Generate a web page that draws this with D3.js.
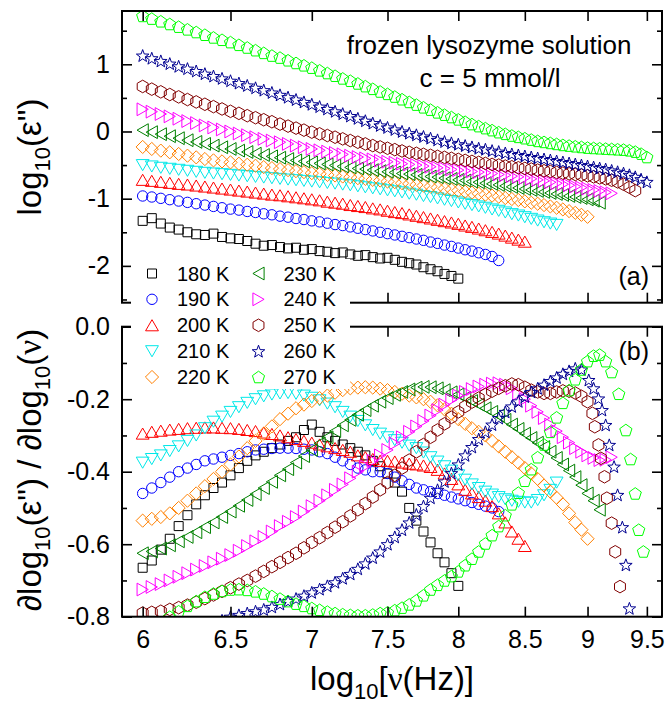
<!DOCTYPE html>
<html>
<head>
<meta charset="utf-8">
<script src="https://cdn.jsdelivr.net/npm/d3@7"></script>
<style>
  body { margin: 0; background: #fff; }
  text { font-family: "Liberation Sans", Arial, sans-serif; fill: #000; }
</style>
</head>
<body>
<svg id="chart" width="669" height="705"></svg>
<script>
// log10 of frequency (Hz), common measurement grid
var freq = [
  6.00,6.05,6.10,6.15,6.20,6.25,6.30,6.35,6.40,6.45,
  6.50,6.55,6.60,6.65,6.70,6.75,6.80,6.85,6.90,6.95,
  7.00,7.05,7.10,7.15,7.20,7.25,7.30,7.35,7.40,7.45,
  7.50,7.55,7.60,7.65,7.70,7.75,7.80,7.85,7.90,7.95,
  8.00,8.05,8.10,8.15,8.20,8.25,8.30,8.35,8.40,8.45,
  8.50,8.55,8.60,8.65,8.70,8.75,8.80,8.85,8.90,8.95,
  9.00,9.05,9.10,9.15,9.20,9.25,9.30,9.35,9.40,9.45,
  9.50]

var temps = ["180 K","190 K","200 K","210 K","220 K","230 K","240 K","250 K","260 K","270 K"]
var colors = ["#000000","#0000ff","#ff0000","#00e8e8","#ff8000","#008000","#ff00ff","#800000","#000090","#00ff00"]
var shapes = ["square","circle","triUp","triDown","diamond","triLeft","triRight","hexagon","star","pentagon"]

// panel (a): log10(eps'')
var eps180 = [
  -1.33,-1.29,-1.37,-1.43,-1.46,-1.50,-1.53,-1.54,-1.52,-1.57,
  -1.59,-1.60,-1.63,-1.67,-1.70,-1.69,-1.72,-1.74,-1.73,-1.76,
  -1.75,-1.78,-1.79,-1.81,-1.80,-1.83,-1.85,-1.84,-1.87,-1.89,
  -1.88,-1.91,-1.94,-1.96,-1.98,-2.02,-2.05,-2.08,-2.12,-2.15,
  -2.19]
var eps190 = [
  -0.96,-0.975,-0.995,-1.015,-1.035,-1.055,-1.075,-1.095,-1.115,-1.135,
  -1.155,-1.17,-1.19,-1.205,-1.225,-1.24,-1.26,-1.275,-1.295,-1.31,
  -1.33,-1.345,-1.365,-1.385,-1.40,-1.42,-1.44,-1.46,-1.48,-1.50,
  -1.52,-1.54,-1.56,-1.58,-1.60,-1.62,-1.645,-1.665,-1.69,-1.71,
  -1.735,-1.76,-1.78,-1.805,-1.83,-1.86,-1.92]
var eps200 = [
  -0.72,-0.735,-0.75,-0.765,-0.78,-0.79,-0.805,-0.82,-0.835,-0.85,
  -0.865,-0.88,-0.895,-0.91,-0.925,-0.94,-0.95,-0.965,-0.98,-0.995,
  -1.01,-1.025,-1.045,-1.06,-1.075,-1.095,-1.11,-1.125,-1.145,-1.16,
  -1.18,-1.20,-1.215,-1.235,-1.255,-1.275,-1.295,-1.315,-1.335,-1.355,
  -1.375,-1.40,-1.42,-1.445,-1.47,-1.495,-1.52,-1.55,-1.58,-1.61,
  -1.64]
var eps210 = [
  -0.50,-0.52,-0.54,-0.555,-0.57,-0.585,-0.60,-0.615,-0.625,-0.635,
  -0.645,-0.655,-0.665,-0.675,-0.685,-0.695,-0.705,-0.715,-0.725,-0.735,
  -0.745,-0.755,-0.765,-0.775,-0.79,-0.80,-0.815,-0.83,-0.845,-0.86,
  -0.875,-0.89,-0.905,-0.925,-0.94,-0.96,-0.975,-0.995,-1.015,-1.035,
  -1.055,-1.075,-1.095,-1.115,-1.135,-1.16,-1.18,-1.205,-1.23,-1.25,
  -1.275,-1.30,-1.325,-1.35,-1.37,-1.39]
var eps220 = [
  -0.23,-0.26,-0.285,-0.31,-0.335,-0.36,-0.385,-0.41,-0.43,-0.445,
  -0.46,-0.48,-0.495,-0.51,-0.53,-0.545,-0.56,-0.575,-0.59,-0.605,
  -0.62,-0.63,-0.645,-0.655,-0.67,-0.68,-0.695,-0.705,-0.72,-0.73,
  -0.745,-0.755,-0.77,-0.78,-0.795,-0.805,-0.82,-0.835,-0.85,-0.865,
  -0.88,-0.895,-0.91,-0.925,-0.94,-0.955,-0.97,-0.99,-1.005,-1.02,
  -1.04,-1.06,-1.075,-1.095,-1.115,-1.135,-1.16,-1.185,-1.21,-1.24,
  -1.27]
var eps230 = [
  0.02,-0.01,-0.04,-0.07,-0.10,-0.13,-0.155,-0.185,-0.21,-0.235,
  -0.26,-0.285,-0.305,-0.33,-0.35,-0.37,-0.39,-0.41,-0.43,-0.445,
  -0.46,-0.475,-0.49,-0.505,-0.52,-0.535,-0.55,-0.56,-0.575,-0.59,
  -0.60,-0.61,-0.625,-0.635,-0.645,-0.66,-0.67,-0.68,-0.695,-0.705,
  -0.72,-0.73,-0.745,-0.755,-0.77,-0.78,-0.795,-0.81,-0.825,-0.84,
  -0.855,-0.87,-0.885,-0.90,-0.915,-0.93,-0.945,-0.96,-0.975,-0.99,
  -1.01,-1.03,-1.06]
var eps240 = [
  0.33,0.295,0.26,0.225,0.19,0.155,0.125,0.09,0.06,0.03,
  0.0,-0.03,-0.055,-0.085,-0.11,-0.135,-0.16,-0.185,-0.21,-0.235,
  -0.26,-0.28,-0.30,-0.32,-0.34,-0.36,-0.38,-0.40,-0.415,-0.435,
  -0.45,-0.465,-0.48,-0.49,-0.50,-0.515,-0.525,-0.54,-0.55,-0.565,
  -0.575,-0.585,-0.595,-0.605,-0.615,-0.625,-0.64,-0.65,-0.665,-0.675,
  -0.69,-0.705,-0.72,-0.735,-0.755,-0.77,-0.785,-0.80,-0.82,-0.835,
  -0.85,-0.87,-0.885,-0.905,-0.92]
var eps250 = [
  0.67,0.63,0.59,0.55,0.515,0.475,0.44,0.405,0.37,0.335,
  0.30,0.27,0.235,0.205,0.175,0.145,0.11,0.08,0.05,0.02,
  -0.01,-0.035,-0.06,-0.085,-0.11,-0.135,-0.16,-0.185,-0.21,-0.23,
  -0.25,-0.27,-0.29,-0.31,-0.325,-0.34,-0.355,-0.37,-0.385,-0.40,
  -0.415,-0.43,-0.445,-0.46,-0.475,-0.49,-0.50,-0.515,-0.525,-0.54,
  -0.55,-0.56,-0.575,-0.585,-0.595,-0.61,-0.62,-0.63,-0.64,-0.65,
  -0.66,-0.675,-0.69,-0.705,-0.725,-0.75,-0.785,-0.83,-0.88]
var eps260 = [
  1.13,1.09,1.05,1.01,0.97,0.935,0.90,0.86,0.825,0.79,
  0.755,0.72,0.685,0.65,0.615,0.58,0.545,0.51,0.475,0.44,
  0.405,0.37,0.335,0.30,0.265,0.23,0.195,0.16,0.125,0.09,
  0.06,0.03,0.0,-0.025,-0.05,-0.075,-0.10,-0.125,-0.15,-0.17,
  -0.19,-0.21,-0.23,-0.25,-0.265,-0.285,-0.30,-0.32,-0.335,-0.35,
  -0.365,-0.38,-0.395,-0.41,-0.425,-0.44,-0.455,-0.47,-0.485,-0.50,
  -0.515,-0.53,-0.545,-0.56,-0.58,-0.60,-0.62,-0.645,-0.675,-0.71,
  -0.75]
var eps270 = [
  1.72,1.68,1.64,1.60,1.56,1.52,1.48,1.44,1.40,1.365,
  1.33,1.29,1.25,1.21,1.17,1.13,1.10,1.06,1.02,0.985,
  0.95,0.91,0.87,0.83,0.79,0.755,0.715,0.675,0.635,0.595,
  0.56,0.52,0.48,0.44,0.40,0.36,0.325,0.285,0.25,0.215,
  0.18,0.145,0.11,0.08,0.05,0.02,-0.01,-0.035,-0.06,-0.08,
  -0.10,-0.12,-0.14,-0.155,-0.17,-0.185,-0.20,-0.21,-0.22,-0.23,
  -0.24,-0.245,-0.25,-0.255,-0.26,-0.265,-0.27,-0.28,-0.30,-0.33,
  -0.38]

// panel (b): dlog10(eps'') / dlog10(nu)
var der180 = [
  -0.665,-0.645,-0.615,-0.585,-0.55,-0.52,-0.49,-0.465,-0.445,-0.43,
  -0.41,-0.39,-0.37,-0.355,-0.345,-0.335,-0.325,-0.315,-0.305,-0.285,
  -0.27,-0.29,-0.305,-0.315,-0.325,-0.335,-0.345,-0.355,-0.37,-0.385,
  -0.405,-0.43,-0.455,-0.50,-0.535,-0.565,-0.595,-0.625,-0.65,-0.68,
  -0.715]
var der190 = [
  -0.46,-0.445,-0.43,-0.415,-0.40,-0.39,-0.38,-0.37,-0.365,-0.36,
  -0.355,-0.35,-0.345,-0.34,-0.338,-0.336,-0.335,-0.335,-0.336,-0.338,
  -0.34,-0.345,-0.35,-0.36,-0.37,-0.38,-0.39,-0.395,-0.40,-0.40,
  -0.405,-0.415,-0.425,-0.435,-0.445,-0.45,-0.455,-0.46,-0.465,-0.47,
  -0.475,-0.48,-0.485,-0.49,-0.495,-0.50,-0.51]
var der200 = [
  -0.295,-0.29,-0.287,-0.284,-0.282,-0.28,-0.279,-0.278,-0.278,-0.279,
  -0.28,-0.282,-0.285,-0.288,-0.292,-0.296,-0.30,-0.305,-0.31,-0.315,
  -0.32,-0.325,-0.33,-0.335,-0.34,-0.345,-0.355,-0.36,-0.365,-0.37,
  -0.37,-0.372,-0.375,-0.378,-0.38,-0.383,-0.387,-0.395,-0.405,-0.42,
  -0.435,-0.45,-0.46,-0.47,-0.48,-0.495,-0.515,-0.54,-0.565,-0.585,
  -0.605]
var der210 = [
  -0.375,-0.365,-0.355,-0.343,-0.33,-0.315,-0.30,-0.28,-0.262,-0.248,
  -0.235,-0.222,-0.21,-0.20,-0.192,-0.187,-0.184,-0.183,-0.185,-0.19,
  -0.196,-0.203,-0.212,-0.222,-0.235,-0.248,-0.26,-0.272,-0.285,-0.295,
  -0.305,-0.313,-0.32,-0.328,-0.335,-0.347,-0.36,-0.372,-0.385,-0.397,
  -0.41,-0.422,-0.435,-0.445,-0.455,-0.463,-0.47,-0.476,-0.48,-0.483,
  -0.485,-0.485,-0.478,-0.465,-0.45,-0.43]
var der220 = [
  -0.535,-0.53,-0.525,-0.515,-0.50,-0.48,-0.46,-0.44,-0.42,-0.40,
  -0.38,-0.358,-0.335,-0.315,-0.295,-0.275,-0.255,-0.24,-0.225,-0.215,
  -0.205,-0.197,-0.19,-0.182,-0.175,-0.17,-0.168,-0.167,-0.168,-0.171,
  -0.175,-0.18,-0.185,-0.19,-0.195,-0.20,-0.207,-0.217,-0.228,-0.24,
  -0.255,-0.268,-0.28,-0.29,-0.30,-0.315,-0.33,-0.345,-0.36,-0.375,
  -0.39,-0.405,-0.42,-0.438,-0.455,-0.472,-0.49,-0.515,-0.54,-0.56,
  -0.585]
var der230 = [
  -0.625,-0.62,-0.612,-0.603,-0.592,-0.58,-0.567,-0.553,-0.54,-0.525,
  -0.51,-0.494,-0.478,-0.462,-0.445,-0.428,-0.41,-0.393,-0.375,-0.357,
  -0.34,-0.322,-0.305,-0.288,-0.272,-0.257,-0.243,-0.23,-0.218,-0.207,
  -0.197,-0.188,-0.18,-0.173,-0.168,-0.166,-0.167,-0.17,-0.175,-0.181,
  -0.187,-0.196,-0.205,-0.215,-0.225,-0.235,-0.245,-0.257,-0.27,-0.282,
  -0.295,-0.307,-0.32,-0.332,-0.345,-0.362,-0.38,-0.397,-0.415,-0.437,
  -0.46,-0.48,-0.505]
var der240 = [
  -0.725,-0.718,-0.71,-0.70,-0.69,-0.68,-0.67,-0.66,-0.65,-0.64,
  -0.63,-0.618,-0.605,-0.592,-0.58,-0.565,-0.55,-0.538,-0.525,-0.51,
  -0.495,-0.48,-0.465,-0.45,-0.435,-0.418,-0.40,-0.385,-0.37,-0.355,
  -0.34,-0.322,-0.305,-0.29,-0.275,-0.26,-0.245,-0.23,-0.215,-0.202,
  -0.19,-0.18,-0.172,-0.165,-0.16,-0.157,-0.156,-0.16,-0.17,-0.185,
  -0.20,-0.218,-0.235,-0.252,-0.27,-0.288,-0.305,-0.32,-0.335,-0.345,
  -0.355,-0.362,-0.368,-0.367,-0.36]
var der250 = [
  -0.79,-0.788,-0.785,-0.78,-0.775,-0.768,-0.76,-0.75,-0.74,-0.73,
  -0.72,-0.71,-0.70,-0.688,-0.675,-0.662,-0.65,-0.637,-0.625,-0.61,
  -0.595,-0.582,-0.568,-0.553,-0.538,-0.522,-0.505,-0.488,-0.47,-0.45,
  -0.43,-0.41,-0.39,-0.368,-0.345,-0.325,-0.305,-0.285,-0.268,-0.25,
  -0.235,-0.22,-0.208,-0.197,-0.187,-0.178,-0.17,-0.163,-0.158,-0.16,
  -0.167,-0.175,-0.18,-0.184,-0.184,-0.18,-0.177,-0.178,-0.183,-0.192]
// 260 K starts at freq 6.45, 270 K at 6.15 (lower values fall below the axis)
var der260 = [
  -0.81,
  -0.80,-0.795,-0.79,-0.785,-0.78,-0.773,-0.765,-0.757,-0.75,-0.742,
  -0.733,-0.724,-0.715,-0.705,-0.694,-0.682,-0.668,-0.653,-0.637,-0.62,
  -0.60,-0.58,-0.56,-0.54,-0.518,-0.495,-0.472,-0.45,-0.427,-0.404,
  -0.38,-0.355,-0.332,-0.31,-0.29,-0.27,-0.252,-0.235,-0.22,-0.206,
  -0.193,-0.18,-0.17,-0.16,-0.15,-0.14,-0.13,-0.122,-0.115]
var der270 = [
  -0.80,-0.785,-0.77,-0.757,-0.745,-0.736,-0.729,
  -0.725,-0.724,-0.726,-0.73,-0.736,-0.743,-0.75,-0.757,-0.764,-0.77,
  -0.776,-0.781,-0.786,-0.79,-0.793,-0.795,-0.796,-0.796,-0.794,-0.79,
  -0.788,-0.782,-0.775,-0.766,-0.755,-0.741,-0.725,-0.712,-0.70,-0.688,
  -0.675,-0.658,-0.64,-0.62,-0.598,-0.575,-0.55,-0.52,-0.49,-0.458,
  -0.425,-0.393,-0.36,-0.325,-0.29,-0.25,-0.21,-0.175,-0.145,-0.118,
  -0.095,-0.08,-0.077]
var derStart = [0,0,0,0,0,0,0,0,9,3]

// steep high-frequency ends of panel (b), own frequencies
var tailX250 = [9.00,9.04,9.06,9.09,9.11,9.14,9.16,9.20,9.23,9.27]
var tailY250 = [-0.207,-0.239,-0.276,-0.326,-0.363,-0.414,-0.473,-0.542,-0.621,-0.717]
var tailX260 = [8.95,9.01,9.05,9.09,9.12,9.15,9.18,9.22,9.25,9.29,9.32,9.35]
var tailY260 = [-0.118,-0.147,-0.17,-0.198,-0.23,-0.271,-0.326,-0.386,-0.464,-0.553,-0.657,-0.777]
var tailX270 = [9.15,9.20,9.26,9.32,9.36,9.40,9.43,9.47]
var tailY270 = [-0.095,-0.125,-0.185,-0.285,-0.365,-0.46,-0.56,-0.62]

var xTicks = [6, 6.5, 7, 7.5, 8, 8.5, 9, 9.5]
var yTicksA = [-2, -1, 0, 1]
var yMinorA = [-2.5, -1.5, -0.5, 0.5, 1.5]
var yTicksB = [-0.8, -0.6, -0.4, -0.2, 0]
var yMinorB = [-0.7, -0.5, -0.3, -0.1]

var epsSeries = [eps180, eps190, eps200, eps210, eps220, eps230, eps240, eps250, eps260, eps270]
var derSeries = [der180, der190, der200, der210, der220, der230, der240, der250, der260, der270]
var derTails = [null, null, null, null, null, null, null,
  [tailX250, tailY250], [tailX260, tailY260], [tailX270, tailY270]]

var svg = d3.select("#chart")

var left = 122, right = 662
var panelA = {top: 11, bottom: 302.7}
var panelB = {top: 326.7, bottom: 616.7}

var x = d3.scaleLog().domain([5.888, 9.632]).range([left, right])
var yA = d3.scaleLinear().domain([-2.548, 1.793]).range([panelA.bottom, panelA.top])
var yB = d3.scaleLinear().domain([-0.8, 0]).range([panelB.bottom, panelB.top])

// marker outlines centred on 0,0
function polygon(n, r, rot, dy) {
  var pts = d3.range(n).map(function(i) {
    var a = rot + i * 2 * Math.PI / n
    return [r * Math.cos(a), r * Math.sin(a) + (dy || 0)]
  })
  return "M" + pts.map(function(p) { return p[0].toFixed(2) + "," + p[1].toFixed(2) }).join("L") + "Z"
}
function starPath(ro, ri) {
  var pts = d3.range(10).map(function(i) {
    var a = -Math.PI / 2 + i * Math.PI / 5, r = i % 2 ? ri : ro
    return [r * Math.cos(a), r * Math.sin(a) + 0.6]
  })
  return "M" + pts.map(function(p) { return p[0].toFixed(2) + "," + p[1].toFixed(2) }).join("L") + "Z"
}
var shapePaths = {
  square: "M-4.5,-4.5h9v9h-9Z",
  circle: "M5.2,0A5.2,5.2 0 1,1 -5.2,0A5.2,5.2 0 1,1 5.2,0Z",
  triUp: polygon(3, 7.4, -Math.PI / 2, 1.8),
  triDown: polygon(3, 7.4, Math.PI / 2, -1.8),
  diamond: polygon(4, 6.6, -Math.PI / 2),
  triLeft: "M-5.6,0L5.6,-6.4L5.6,6.4Z",
  triRight: "M5.6,0L-5.6,-6.4L-5.6,6.4Z",
  hexagon: polygon(6, 6.3, -Math.PI / 2),
  star: starPath(6.6, 2.7),
  pentagon: polygon(5, 6.4, -Math.PI / 2, 0.6)
}

// clip regions
var defs = svg.append("defs")
defs.append("clipPath").attr("id", "clipA").append("rect")
  .attr("x", left).attr("y", panelA.top).attr("width", right - left).attr("height", panelA.bottom - panelA.top)
defs.append("clipPath").attr("id", "clipB").append("rect")
  .attr("x", left).attr("y", panelB.top).attr("width", right - left).attr("height", panelB.bottom - panelB.top)

function drawPoints(g, pts, k) {
  g.selectAll(null).data(pts).enter().append("path")
    .attr("d", shapePaths[shapes[k]])
    .attr("transform", function(d) { return "translate(" + d[0].toFixed(2) + "," + d[1].toFixed(2) + ")" })
    .attr("fill", "none")
    .attr("stroke", colors[k])
    .attr("stroke-width", 1)
}

var gA = svg.append("g").attr("clip-path", "url(#clipA)")
epsSeries.forEach(function(vals, k) {
  var pts = vals.map(function(v, i) { return [x(freq[i]), yA(v)] })
  drawPoints(gA.append("g"), pts, k)
})

var gB = svg.append("g").attr("clip-path", "url(#clipB)")
derSeries.forEach(function(vals, k) {
  var s = derStart[k]
  var pts = vals.map(function(v, i) { return [x(freq[s + i]), yB(v)] })
  if (derTails[k]) {
    derTails[k][0].forEach(function(xv, i) { pts.push([x(xv), yB(derTails[k][1][i])]) })
  }
  drawPoints(gB.append("g"), pts, k)
})

// axes with inward ticks on all four sides
function styleAxis(g) {
  g.select(".domain").remove()
  g.selectAll(".tick line").attr("stroke", "#000").attr("stroke-width", 1.6)
  g.selectAll(".tick text").style("font-size", "25px").attr("font-family", null)
  g.attr("font-family", null).attr("font-size", null)
}
function drawPanel(y, p, major, minor, fmt, showX) {
  var fx = showX ? function(d) { return String(d) } : ""
  svg.append("g").attr("transform", "translate(0," + p.bottom + ")")
    .call(d3.axisBottom(x).tickValues(xTicks).tickSize(-10).tickSizeOuter(0).tickPadding(14).tickFormat(fx))
    .call(styleAxis)
  svg.append("g").attr("transform", "translate(0," + p.top + ")")
    .call(d3.axisTop(x).tickValues(xTicks).tickSize(-10).tickSizeOuter(0).tickFormat(""))
    .call(styleAxis)
  svg.append("g").attr("transform", "translate(" + left + ",0)")
    .call(d3.axisLeft(y).tickValues(major).tickSize(-10).tickSizeOuter(0).tickPadding(12).tickFormat(fmt))
    .call(styleAxis)
  svg.append("g").attr("transform", "translate(" + left + ",0)")
    .call(d3.axisLeft(y).tickValues(minor).tickSize(-5).tickSizeOuter(0).tickFormat(""))
    .call(styleAxis)
  svg.append("g").attr("transform", "translate(" + right + ",0)")
    .call(d3.axisRight(y).tickValues(major).tickSize(-10).tickSizeOuter(0).tickFormat(""))
    .call(styleAxis)
  svg.append("g").attr("transform", "translate(" + right + ",0)")
    .call(d3.axisRight(y).tickValues(minor).tickSize(-5).tickSizeOuter(0).tickFormat(""))
    .call(styleAxis)
  svg.append("rect")
    .attr("x", left).attr("y", p.top).attr("width", right - left).attr("height", p.bottom - p.top)
    .attr("fill", "none").attr("stroke", "#000").attr("stroke-width", 2)
}
drawPanel(yA, panelA, yTicksA, yMinorA, function(d) { return String(d) }, false)
drawPanel(yB, panelB, yTicksB, yMinorB, function(d) { return d.toFixed(1) }, true)

// legend, white box spans the gap between the panels
svg.append("rect").attr("x", 131).attr("y", 259).attr("width", 219).attr("height", 130).attr("fill", "#fff")
var legendCols = [152, 258.5]
var legendRows = [273.5, 299.3, 325.3, 351.2, 377]
temps.forEach(function(t, k) {
  var cx = legendCols[Math.floor(k / 5)], cy = legendRows[k % 5]
  drawPoints(svg.append("g"), [[cx, cy]], k)
  svg.append("text").attr("x", cx + 25).attr("y", cy + 7).style("font-size", "20px").text(t)
})

// annotations
svg.append("text").attr("x", 489).attr("y", 53.5).attr("text-anchor", "middle")
  .style("font-size", "26px").text("frozen lysozyme solution")
svg.append("text").attr("x", 490).attr("y", 87).attr("text-anchor", "middle")
  .style("font-size", "26px").text("c = 5 mmol/l")
svg.append("text").attr("x", 649).attr("y", 285).attr("text-anchor", "end").style("font-size", "25px").text("(a)")
svg.append("text").attr("x", 649).attr("y", 360).attr("text-anchor", "end").style("font-size", "25px").text("(b)")

// axis titles
function addParts(t, parts) {
  parts.forEach(function(p) {
    var s = t.append("tspan").text(p.t)
    if (p.sub) s.attr("dy", 9).style("font-size", "22px")
    if (p.up) s.attr("dy", -9)
    if (p.serif) s.style("font-family", "'Liberation Serif', 'Times New Roman', serif")
  })
}
var tA = svg.append("text").attr("transform", "translate(41,157) rotate(-90)")
  .attr("text-anchor", "middle").style("font-size", "33px")
addParts(tA, [{t: "log"}, {t: "10", sub: true}, {t: "(ε\")", up: true}])

var tB = svg.append("text").attr("transform", "translate(41,470) rotate(-90)")
  .attr("text-anchor", "middle").style("font-size", "33px")
addParts(tB, [{t: "∂log"}, {t: "10", sub: true}, {t: "(ε\") / ∂log", up: true},
  {t: "10", sub: true}, {t: "(", up: true}, {t: "ν", serif: true}, {t: ")"}])

var tX = svg.append("text").attr("transform", "translate(392,690)")
  .attr("text-anchor", "middle").style("font-size", "33px")
addParts(tX, [{t: "log"}, {t: "10", sub: true}, {t: "[", up: true}, {t: "ν", serif: true}, {t: "(Hz)]"}])
</script>
</body>
</html>
